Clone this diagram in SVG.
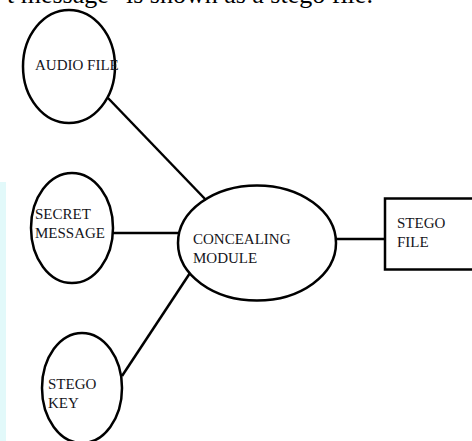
<svg xmlns="http://www.w3.org/2000/svg" width="472" height="441" viewBox="0 0 472 441">
<style>
.n{fill:none;stroke:#000;stroke-width:2.5}
.c line{stroke:#000;stroke-width:2.5}
text{font-family:"Liberation Serif","Times New Roman",serif;font-size:15px;fill:#141420}
.top{font-size:26px;fill:#000}
</style>
<rect x="0" y="0" width="472" height="441" fill="#fff"/>
<rect x="0" y="182" width="6" height="259" fill="#e2f9fa"/>
<text class="top" x="7" y="3">t message" is shown as a stego file.</text>
<g class="c">
<line x1="108" y1="98" x2="206" y2="200"/>
<line x1="113" y1="233" x2="179" y2="233"/>
<line x1="122" y1="376" x2="190" y2="273"/>
<line x1="336" y1="239" x2="385" y2="239"/>
</g>
<g id="audio"><ellipse class="n" cx="69" cy="66.5" rx="46" ry="56.5"/><text x="35" y="70">AUDIO FILE</text></g>
<g id="secret"><ellipse class="n" cx="72" cy="228" rx="41" ry="55"/><text x="35" y="219">SECRET</text><text x="35" y="238">MESSAGE</text></g>
<g id="conceal"><ellipse class="n" cx="257" cy="243" rx="79" ry="57.5"/><text x="193" y="244">CONCEALING</text><text x="193" y="263">MODULE</text></g>
<g id="stegofile"><rect class="n" x="385" y="198.5" width="100" height="71"/><text x="397" y="228">STEGO</text><text x="397" y="247">FILE</text></g>
<g id="stegokey"><ellipse class="n" cx="82" cy="388" rx="40" ry="55"/><text x="48" y="389">STEGO</text><text x="48" y="408">KEY</text></g>
</svg>
